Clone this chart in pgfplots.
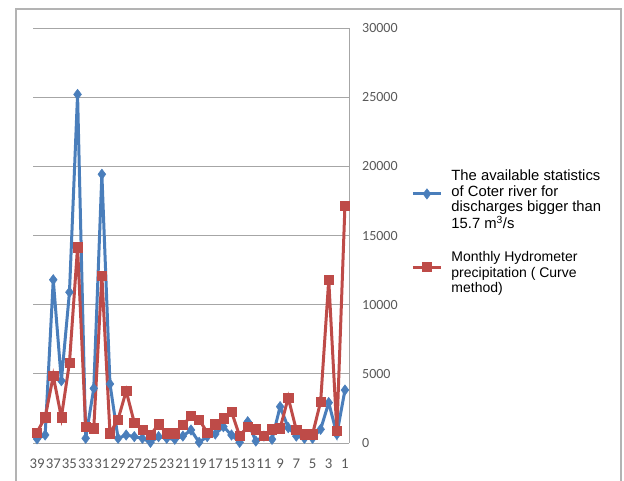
\documentclass[border=0pt]{standalone}
\usepackage{fontspec}
\setmainfont{Carlito}
\newfontfamily\legfont{Liberation Sans}
\usepackage{pgfplots}
\pgfplotsset{compat=1.18}
\definecolor{exblue}{HTML}{4A7EBB}
\definecolor{exred}{HTML}{BE4B48}
\definecolor{gridc}{HTML}{A6A6A6}
\definecolor{tickc}{HTML}{595959}
\definecolor{framec}{HTML}{B3B3B3}
\begin{document}
\begin{tikzpicture}
\useasboundingbox (0pt,0pt) rectangle (624pt,-480pt);
\draw[framec, line width=1.3pt] (16pt,-500pt) -- (16pt,-9pt) -- (621pt,-9pt) -- (621pt,-500pt);
\begin{axis}[
  at={(33pt,-443pt)}, anchor=south west,
  scale only axis, width=316pt, height=415pt,
  xmin=-0.5, xmax=38.5, ymin=0, ymax=30000,
  axis x line*=bottom, axis y line*=right,
  x axis line style={draw=gridc, line width=0.8pt},
  y axis line style={draw=gridc, line width=0.8pt},
  ytick={0,5000,...,30000},
  scaled y ticks=false,
  ymajorgrids, grid style={gridc, line width=0.8pt},
  major tick length=0pt,
  xtick={0,2,...,38},
  xticklabels={39,37,35,33,31,29,27,25,23,21,19,17,15,13,11,9,7,5,3,1},
  tick label style={text=tickc},
  yticklabel style={font=\fontsize{14}{16}\selectfont},
  xticklabel style={font=\fontsize{14.8}{17}\selectfont},
  /pgf/number format/1000 sep={},
  /pgf/number format/assume math mode=true,
  yticklabel style={anchor=west, inner sep=0pt, xshift=13pt},
  xticklabel style={anchor=north, inner sep=0pt, yshift=-16pt},
  legend style={at={(axis description cs:1.197,0.663)}, anchor=north west,
    draw=none, fill=none, inner sep=0pt,
    font=\legfont\fontsize{14}{15.5}\selectfont,
    cells={anchor=west, align=left}, row sep=18pt,
    /tikz/every odd column/.append style={column sep=7pt}},
  legend image code/.code={\draw[mark repeat=2, mark phase=2, yshift=6pt] plot coordinates {(0pt,0pt)(14pt,0pt)(28pt,0pt)};},
]
\addplot[color=exblue, line width=3pt, mark=diamond*, mark size=5.2pt, mark options={fill=exblue, line width=0.5pt}] coordinates {
(0,300)(1,580)(2,11800)(3,4500)(4,10900)(5,25200)(6,340)(7,3950)(8,19430)(9,4270)
(10,340)(11,580)(12,460)(13,340)(14,50)(15,460)(16,340)(17,270)(18,500)(19,940)
(20,50)(21,460)(22,650)(23,1180)(24,580)(25,50)(26,1540)(27,140)(28,500)(29,270)
(30,2630)(31,1110)(32,500)(33,340)(34,340)(35,990)(36,2920)(37,630)(38,3830)
};
\addlegendentry{\fontsize{14.8}{15.5}\selectfont The available statistics\\\fontsize{14.8}{15.5}\selectfont of Coter river for\\\fontsize{14.8}{15.5}\selectfont discharges bigger than\\\fontsize{14.8}{15.5}\selectfont 15.7 m\textsuperscript{3}/s}
\addplot[color=exred, line width=3pt, mark=square*, mark size=4.6pt, mark options={fill=exred, line width=0.5pt}] coordinates {
(0,770)(1,1860)(2,4840)(3,1860)(4,5810)(5,14150)(6,1180)(7,1060)(8,12100)(9,700)
(10,1710)(11,3760)(12,1470)(13,940)(14,580)(15,1350)(16,700)(17,700)(18,1300)(19,1950)
(20,1710)(21,750)(22,1350)(23,1790)(24,2270)(25,500)(26,1180)(27,990)(28,500)(29,990)
(30,1060)(31,3280)(32,940)(33,630)(34,630)(35,2990)(36,11790)(37,870)(38,17160)
};
\addlegendentry{Monthly Hydrometer\\precipitation ( Curve\\method)}
\end{axis}
\end{tikzpicture}
\end{document}
